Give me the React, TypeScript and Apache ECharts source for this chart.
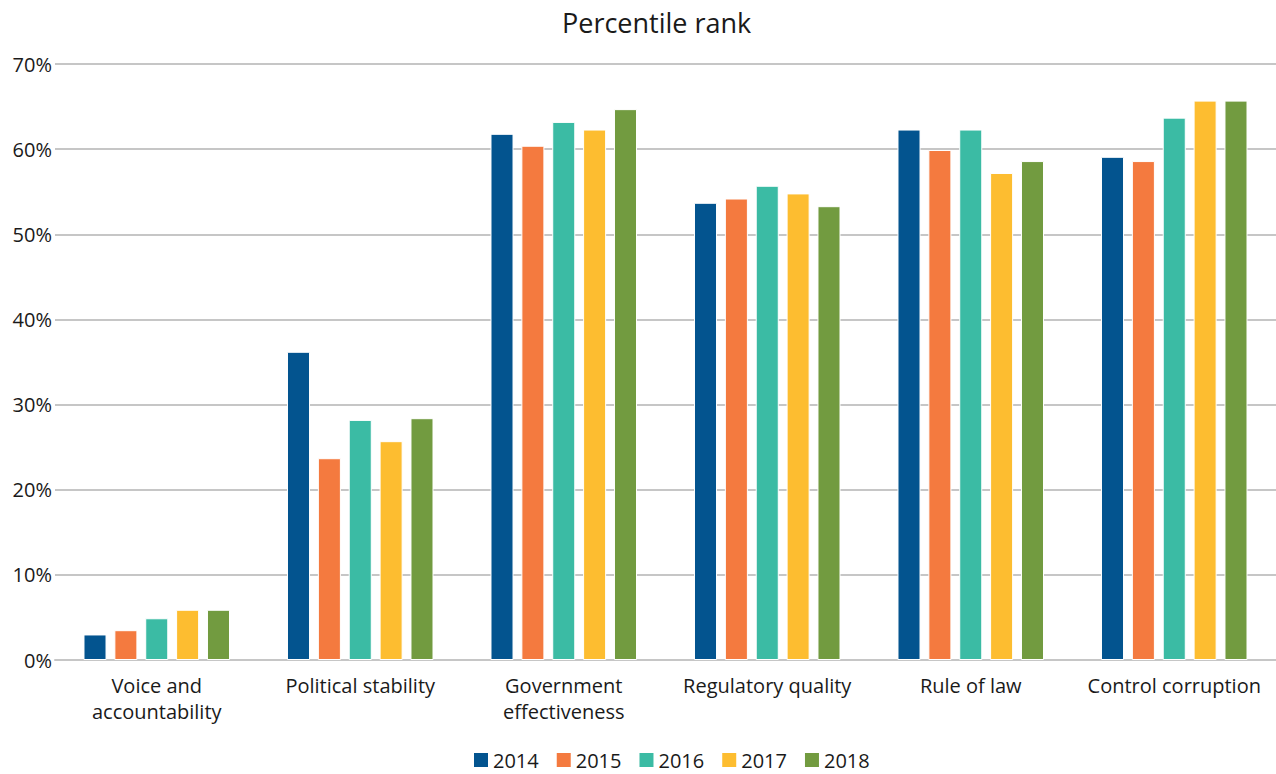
import React, { useEffect, useRef } from "react";
import * as echarts from "echarts";

const categories = [
  "Voice and\naccountability",
  "Political stability",
  "Government\neffectiveness",
  "Regulatory quality",
  "Rule of law",
  "Control corruption",
];
const years = ["2014", "2015", "2016", "2017", "2018"];
const v2014 = [3.0, 36.2, 61.8, 53.7, 62.3, 59.1];
const v2015 = [3.5, 23.7, 60.4, 54.2, 59.9, 58.6];
const v2016 = [4.9, 28.2, 63.2, 55.7, 62.3, 63.7];
const v2017 = [5.9, 25.7, 62.3, 54.8, 57.2, 65.7];
const v2018 = [5.9, 28.4, 64.7, 53.3, 58.6, 65.7];
const colors = ["#03548f", "#f47a3f", "#3bbba4", "#fdbd30", "#729b40"];
const seriesValues = [v2014, v2015, v2016, v2017, v2018];

const FONT = "'Open Sans', Lato, sans-serif";

export default function App() {
  const ref = useRef<HTMLDivElement>(null);
  useEffect(() => {
    document.body.style.margin = "0";
    const chart = echarts.init(ref.current!, undefined, { renderer: "svg" });
    chart.setOption({
      animation: false,
      title: {
        text: "Percentile rank",
        left: 557,
        top: 4,
        textStyle: { fontFamily: FONT, fontSize: 27, fontWeight: "normal", color: "#1a1a1a" },
      },
      grid: { left: 55, right: 0, top: 64, bottom: 114, containLabel: false },
      legend: {
        top: 750,
        left: 472,
        padding: 0,
        itemWidth: 16,
        itemHeight: 16,
        itemGap: 16,
        icon: "rect",
        textStyle: { fontFamily: FONT, fontSize: 20, color: "#1a1a1a", padding: [0, 0, 0, -1] },
        data: years,
      },
      xAxis: {
        type: "category",
        data: categories,
        axisLine: { lineStyle: { color: "#c6c6c6", width: 2 } },
        axisTick: { show: false },
        axisLabel: {
          fontFamily: FONT,
          fontSize: 20,
          color: "#1a1a1a",
          margin: 12,
          lineHeight: 26,
          interval: 0,
        },
      },
      yAxis: {
        type: "value",
        min: 0,
        max: 70,
        interval: 10,
        axisLine: { show: false },
        axisTick: { show: false },
        splitLine: { lineStyle: { color: "#c6c6c6", width: 2 } },
        axisLabel: {
          fontFamily: FONT,
          fontSize: 20,
          color: "#1a1a1a",
          margin: 3,
          formatter: "{value}%",
        },
      },
      series: seriesValues.map((vals, i) => ({
        name: years[i],
        type: "bar",
        data: vals,
        barGap: "34%",
        barCategoryGap: "28%",
        itemStyle: { color: colors[i], borderColor: "#ffffff", borderWidth: 1 },
      })),
    });
    return () => chart.dispose();
  }, []);
  return <div ref={ref} style={{ width: 1276, height: 774 }} />;
}
